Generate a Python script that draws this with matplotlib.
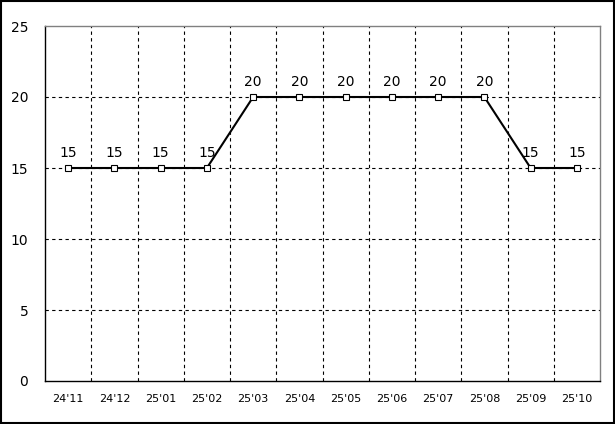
import matplotlib.pyplot as plt

# Datos
meses = ["24'11", "24'12", "25'01", "25'02", "25'03", "25'04",
         "25'05", "25'06", "25'07", "25'08", "25'09", "25'10"]
valores = [15, 15, 15, 15, 20, 20, 20, 20, 20, 20, 15, 15]
yticks = [0, 5, 10, 15, 20, 25]

fig = plt.figure(figsize=(6.15, 4.24), dpi=100)
ax = fig.add_axes([45 / 615, 1 - 381 / 424, 555 / 615, 355 / 424])

x = list(range(len(meses)))
ax.plot(x, valores, color='black', linewidth=1.5, marker='s', markersize=4,
        markerfacecolor='white', markeredgecolor='black', markeredgewidth=0.8,
        zorder=3)

for xi, v in zip(x, valores):
    ax.annotate(str(v), (xi, v), xytext=(0, 6), textcoords='offset points',
                ha='center', va='bottom', fontsize=10)

ax.set_xlim(-0.5, len(meses) - 0.5)
ax.set_ylim(0, 25)
ax.set_yticks(yticks)
ax.set_xticks(x)
ax.set_xticklabels(meses, fontsize=8)
ax.tick_params(axis='y', labelsize=10, length=0, pad=12)
ax.tick_params(axis='x', length=0, pad=9)

# Rejilla: horizontales en los ticks, verticales entre categorías
for y in yticks[1:-1]:
    ax.axhline(y, color='black', linestyle=(0, (3, 3)), linewidth=0.8, zorder=1)
for b in range(1, len(meses)):
    ax.axvline(b - 0.5, color='black', linestyle=(0, (3, 3)), linewidth=0.8, zorder=1)

ax.spines['top'].set_color('gray')
ax.spines['right'].set_color('gray')
for s in ax.spines.values():
    s.set_linewidth(1)

# Borde exterior
fig.patches.append(plt.Rectangle((0.002, 0.003), 0.996, 0.994, transform=fig.transFigure,
                                 fill=False, edgecolor='black', linewidth=1.5))

fig.savefig('out.png', dpi=100)
